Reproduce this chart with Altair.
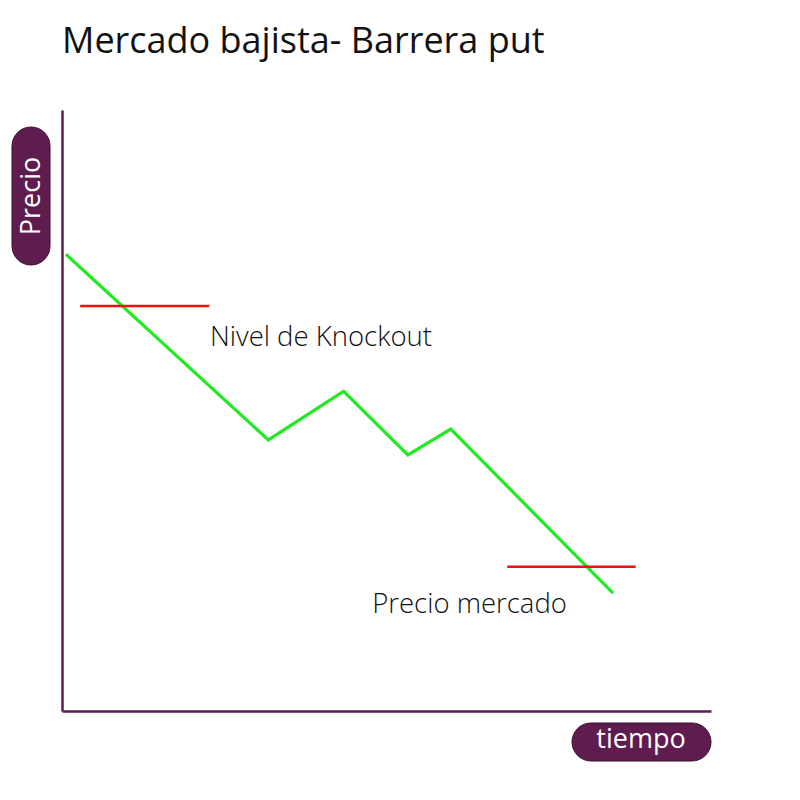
import altair as alt
import pandas as pd

# Price path (time units, price units)
tiempo = [0.06, 3.18, 4.34, 5.33, 5.99, 8.49]
precio = [7.60, 4.51, 5.32, 4.26, 4.69, 1.96]

# Horizontal reference levels
nivel_nombres = ["Nivel de Knockout", "Precio mercado"]
nivel_x_ini = [0.28, 6.86]
nivel_x_fin = [2.27, 8.84]
nivel_y = [6.74, 2.40]
etiqueta_x = [2.28, 4.78]
etiqueta_y = [6.07, 1.63]

titulo = "Mercado bajista- Barrera put"
eje_y = "Precio"
eje_x = "tiempo"

PURPLE = "#5e1d4e"
FONT = "Open Sans"

path_df = pd.DataFrame({"t": tiempo, "p": precio})
lvl_df = pd.DataFrame({"name": nivel_nombres, "x1": nivel_x_ini, "x2": nivel_x_fin,
                       "y": nivel_y, "lx": etiqueta_x, "ly": etiqueta_y})
one = pd.DataFrame({"k": [0]})

xs = alt.Scale(domain=[0, 10], nice=False, zero=False)
ys = alt.Scale(domain=[0, 10], nice=False, zero=False)
xax = alt.Axis(title=None, labels=False, ticks=False, grid=False, domainColor=PURPLE, domainWidth=2.5)
yax = alt.Axis(title=None, labels=False, ticks=False, grid=False, domainColor=PURPLE, domainWidth=2.5)

line = alt.Chart(path_df).mark_line(color="#22ea22", strokeWidth=3.2).encode(
    x=alt.X("t:Q", scale=xs, axis=xax),
    y=alt.Y("p:Q", scale=ys, axis=yax),
)

rules = alt.Chart(lvl_df).mark_rule(color="#ee1111", strokeWidth=2.5).encode(
    x=alt.X("x1:Q", scale=xs), x2="x2:Q", y=alt.Y("y:Q", scale=ys)
)

labels = alt.Chart(lvl_df).mark_text(align="left", baseline="alphabetic", font=FONT,
                                      fontWeight=300, fontSize=27.5, color="#111111").encode(
    x=alt.X("lx:Q", scale=xs), y=alt.Y("ly:Q", scale=ys), text="name:N"
)

title_txt = alt.Chart(one).mark_text(align="left", baseline="alphabetic", font=FONT,
                                     fontWeight=500, fontSize=36, color="#111111").encode(
    x=alt.value(0), y=alt.value(-57), text=alt.value(titulo)
)

pill_y = alt.Chart(one).mark_rect(color=PURPLE, cornerRadius=19, stroke="#3a0f30", strokeWidth=1).encode(
    x=alt.value(-50), x2=alt.value(-12), y=alt.value(17), y2=alt.value(155)
)
pill_y_txt = alt.Chart(one).mark_text(align="center", baseline="middle", angle=270, font=FONT,
                                      fontSize=27, color="white").encode(
    x=alt.value(-30), y=alt.value(86), text=alt.value(eje_y)
)

pill_x = alt.Chart(one).mark_rect(color=PURPLE, cornerRadius=19, stroke="#3a0f30", strokeWidth=1).encode(
    x=alt.value(510), x2=alt.value(649), y=alt.value(613), y2=alt.value(651)
)
pill_x_txt = alt.Chart(one).mark_text(align="center", baseline="middle", font=FONT,
                                      fontSize=27, color="white").encode(
    x=alt.value(579), y=alt.value(630), text=alt.value(eje_x)
)

chart = alt.layer(line, rules, labels, title_txt, pill_y, pill_y_txt, pill_x, pill_x_txt).properties(
    width=649, height=601,
    autosize=alt.AutoSizeParams(type="none"),
    padding={"left": 54, "top": 102, "right": 81, "bottom": 81},
    background="white",
).configure_view(stroke=None)

chart.save("out.html", embed_options={"renderer": "svg", "actions": False})
